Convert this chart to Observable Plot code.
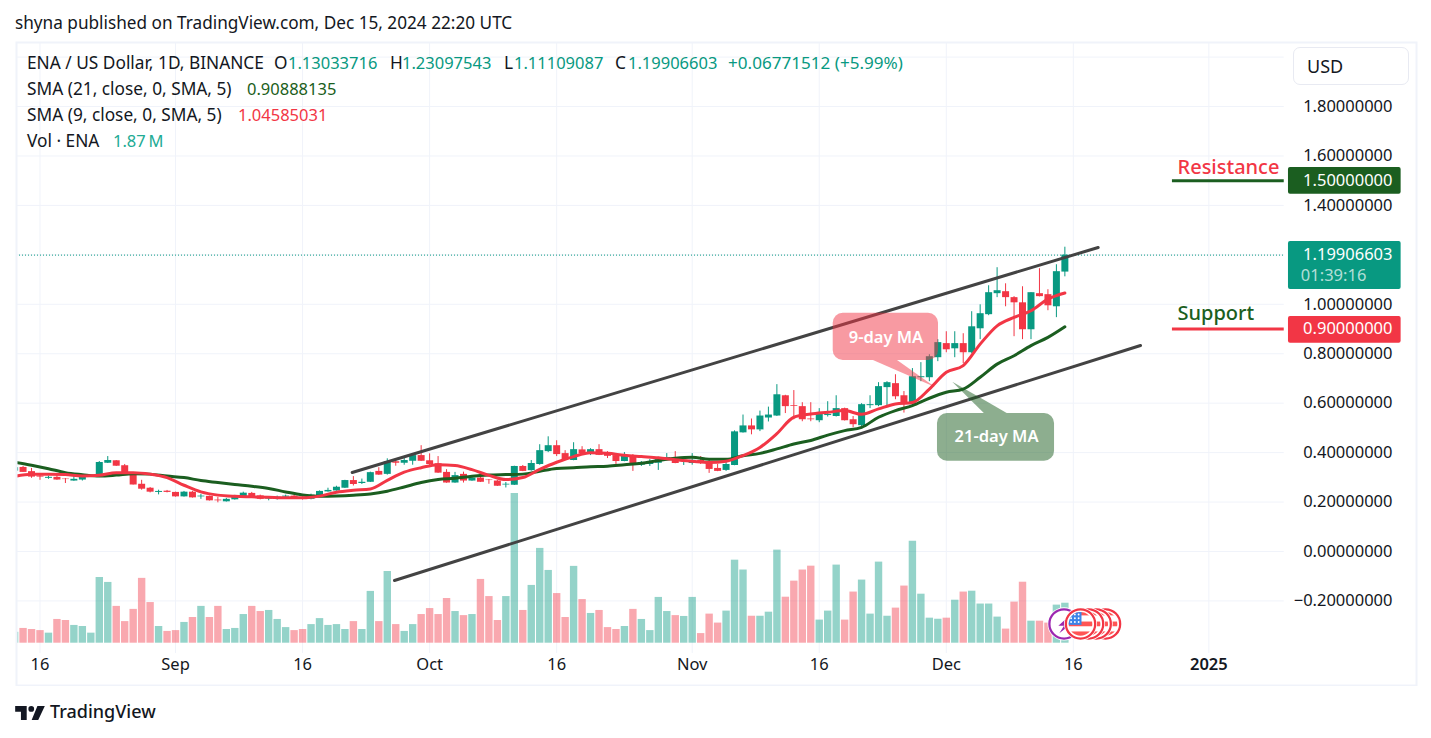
<!DOCTYPE html>
<html>
<head>
<meta charset="utf-8">
<script src="https://cdn.jsdelivr.net/npm/d3@7"></script>
<script src="https://cdn.jsdelivr.net/npm/@observablehq/plot@0.6"></script>
<style>
  html,body{margin:0;padding:0;background:#fff;width:1431px;height:738px;overflow:hidden;}
  body{position:relative;font-family:"Noto Sans",sans-serif;color:#131722;}
  #title{height:41px;line-height:45px;padding-left:15px;font-size:17.2px;box-sizing:border-box;white-space:nowrap;}
  #chart svg{display:block;}
  #footer{height:52px;position:relative;}
  #footer svg{position:absolute;left:15px;top:20px;}
  #footer span{position:absolute;left:50px;top:13px;font-size:18px;font-weight:500;color:#131722;}
  .lg{position:absolute;line-height:22px;white-space:nowrap;}
  #usd{position:absolute;left:1293px;top:47px;width:116px;height:38px;box-sizing:border-box;border:1.5px solid #e8eaf2;border-radius:7px;font-size:18px;line-height:36px;padding-left:13px;}
</style>
</head>
<body>
<div id="title">shyna published on TradingView.com, Dec 15, 2024 22:20 UTC</div>
<div id="chart"></div>
<div id="footer">
  <svg width="30" height="14" viewBox="0 0 36 17"><path fill="#131722" d="M14 17H7V7H0V0h14zM28 17h-8L27 0h9z"/><circle cx="19.5" cy="3.5" r="3.5" fill="#131722"/></svg>
  <span>TradingView</span>
</div>
<div id="usd">USD</div>
<script>
// ---------- data ----------
const dayStart = Date.UTC(2024, 7, 13), dayEnd = Date.UTC(2024, 11, 16);
const opens = [
.325,.340,.323,.305,.296,.300,.293,.285,.289,.303,.301,.357,.367,.347,.311,.272,.256,.239,.244,
.239,.221,.240,.221,.223,.208,.201,.209,.217,.235,.225,.212,.211,.220,.224,.215,.211,.224,.241,.245,.256,.287,.275,.280,.324,.312,.363,.357,.365,.388,
.367,.355,.320,.277,.312,.285,.297,.289,.285,.269,.268,.344,.327,.352,.404,.428,.396,.368,.411,.396,.412,.395,.388,.364,.388,.349,.352,.357,.368,.377,.367,
.356,.368,.364,.336,.328,.348,.480,.508,.492,.540,.548,.630,.590,.586,.536,.529,.550,.546,.578,.533,.509,.590,.590,.663,.679,.630,.594,.703,.703,.784,
.841,.820,.841,.804,.901,.958,1.043,1.051,1.027,1.006,.897,1.043,1.039,.990,1.13034];
const highs = [
.341,.344,.336,.315,.305,.311,.295,.305,.311,.308,.364,.384,.368,.352,.319,.288,.259,.248,.247,
.240,.243,.243,.231,.224,.219,.215,.227,.240,.239,.228,.221,.224,.228,.227,.221,.232,.245,.256,.264,.288,.303,.293,.321,.339,.375,.375,.377,.395,.428,
.395,.384,.331,.320,.321,.307,.301,.291,.288,.279,.345,.348,.368,.432,.464,.448,.408,.440,.424,.416,.432,.404,.391,.400,.392,.364,.372,.381,.396,.404,.381,
.396,.384,.368,.352,.360,.488,.552,.536,.568,.584,.675,.632,.651,.602,.602,.578,.606,.630,.580,.546,.598,.630,.683,.687,.715,.647,.740,.764,.796,.857,
.889,.889,.881,.970,.998,1.075,1.148,1.083,1.031,1.071,1.047,1.144,1.059,1.160,1.23098];
const lows = [
.323,.320,.296,.288,.292,.288,.275,.284,.285,.299,.299,.356,.344,.308,.269,.248,.237,.229,.237,
.220,.220,.216,.211,.204,.197,.200,.208,.216,.216,.209,.205,.208,.217,.213,.208,.209,.220,.240,.244,.255,.265,.271,.279,.308,.309,.345,.349,.349,.364,
.347,.316,.276,.276,.277,.284,.279,.272,.263,.257,.267,.323,.325,.349,.400,.384,.371,.367,.392,.388,.388,.376,.352,.363,.324,.344,.344,.328,.367,.355,.348,
.349,.352,.316,.323,.324,.347,.479,.472,.485,.524,.546,.558,.533,.525,.525,.521,.544,.544,.528,.501,.505,.578,.586,.586,.614,.560,.590,.687,.687,.768,
.804,.784,.760,.800,.857,.954,1.027,.990,.869,.857,.857,1.030,.974,.946,1.11109];
const closes = [
.339,.320,.301,.301,.300,.289,.291,.292,.304,.305,.360,.368,.345,.309,.269,.252,.240,.243,.239,
.221,.240,.217,.224,.205,.205,.211,.221,.236,.217,.211,.216,.220,.224,.215,.212,.228,.243,.247,.260,.287,.271,.280,.319,.309,.363,.357,.368,.388,.365,
.352,.317,.277,.307,.285,.297,.280,.287,.264,.272,.344,.324,.356,.408,.428,.392,.372,.412,.396,.412,.389,.385,.364,.388,.349,.360,.360,.372,.380,.356,.369,
.369,.356,.332,.324,.352,.484,.508,.492,.548,.552,.634,.586,.587,.533,.533,.554,.554,.578,.529,.513,.594,.594,.667,.683,.626,.594,.707,.707,.788,.845,
.816,.841,.804,.909,.962,1.047,1.055,1.027,1.006,.897,1.047,1.031,.994,1.132,1.19907];
const volumeM = [
.51,.69,.64,.59,.47,1.11,1.06,.83,.78,.47,3.07,2.84,1.72,1.01,1.58,3.03,1.90,.78,.55,
.59,.97,1.20,1.72,1.20,1.72,.64,.69,1.34,1.72,1.48,1.53,1.11,.73,.59,.64,.87,1.15,.83,.87,.64,1.01,.64,2.42,1.01,3.35,.87,.55,.87,1.34,
1.62,1.34,2.09,1.48,1.29,1.34,2.98,2.18,1.06,2.18,7.00,1.53,2.70,4.43,3.40,2.32,1.20,3.59,2.04,1.39,1.53,.73,.64,.78,1.58,1.11,.59,2.14,1.48,1.29,1.25,
2.14,.45,1.36,.94,1.50,3.88,3.42,1.26,1.26,1.45,4.35,2.15,2.90,3.42,3.60,1.08,1.50,3.65,1.08,2.39,2.95,1.36,3.79,1.26,1.64,2.67,4.77,2.29,1.17,1.12,
1.17,2.01,2.39,2.43,1.83,1.83,1.22,.66,1.92,2.85,1.03,1.03,.94,1.78,1.87];
// moving averages, read every second day from Aug 13
const ma21 = [
.361,.349,.335,.319,.311,.305,.309,.315,.313,.305,.299,.287,.279,.271,.264,.255,.241,.229,.224,.225,.228,.233,.244,.261,.279,.291,.296,.304,
.309,.311,.313,.325,.336,.339,.343,.345,.351,.357,.368,.377,.381,.373,.373,.387,.397,.415,
.435,.449,.471,.489,.502,.543,.570,.590,.620,.644,.657,.705,.758,.792,.833,.866,.90888];
const ma9 = [
.304,.312,.313,.311,.305,.308,.319,.319,.313,.299,.268,.241,.228,.223,.221,.219,.217,.217,.224,.240,.248,.253,.288,.321,.339,.351,.348,.331,
.308,.291,.299,.332,.361,.384,.399,.397,.389,.384,.379,.371,.365,.36,.365,.388,.421,.477,
.543,.556,.563,.570,.555,.577,.597,.603,.657,.725,.752,.839,.913,.947,.974,1.021,1.04585];

const priceTicks = [1.8,1.6,1.4,1.0,0.8,0.6,0.4,0.2,0,-0.2];
const gridPrices = [2.0,1.8,1.6,1.4,1.2,1.0,0.8,0.6,0.4,0.2,0,-0.2];
const xTickDates = ["2024-08-16","2024-09-01","2024-09-16","2024-10-01","2024-10-16","2024-11-01","2024-11-16","2024-12-01","2024-12-16"];
const xTickLabels = ["16","Sep","16","Oct","16","Nov","16","Dec","16"];
const yearTickDate = "2025-01-01", yearTickLabel = "2025";

const lastClose = 1.19906603, resistance = 1.5, support = 0.9;
// trend channel and callout anchors: [days after Aug 16, price]
const channelUpper = [[36.86,.3196],[124.93,1.2298]];
const channelLower = [[41.85,-.1173],[129.93,.8333]];
const ma9Box = {x1:93.65,x2:106.08,y1:.7727,y2:.964}, ma21Box = {x1:105.96,x2:119.78,y1:.3653,y2:.5583};
const ma9Tail = [[98.4,.7727,.7727],[101.24,.7727,.730],[105.73,.6634,.6634]];
const ma21Tail = [[107.76,.6849,.6849],[111.49,.612,.5583],[114.19,.5583,.5583]];
const callouts = [{t:"9-day MA",x:99.88,y:.8657},{t:"21-day MA",x:112.93,y:.4652}];

// ---------- helpers ----------
const up = "#089981", down = "#f23645", dark = "#1b5e20", grid = "#f0f3fa", ink = "#131722";
const font = '"Noto Sans",sans-serif';
const origin = Date.UTC(2024,7,16);
const day = d => new Date(origin + d*864e5);
const panelStart = day(146.9), plotLeft = day(-2.7745);
const axisBottom = -.4126, volBase = -.371, volPerM = .08657;
const dates = d3.utcDay.range(dayStart, dayEnd);
const candles = dates.map((date,i)=>({date,o:opens[i],h:highs[i],l:lows[i],c:closes[i],v:volumeM[i],color:closes[i]>=opens[i]?up:down}));
const maDates = dates.filter((_,i)=>i%2===0);
const seg = a => a.map(([x,y])=>({x:day(x),y}));
const tail = a => a.map(([x,y1,y2])=>({x:day(x),y1,y2}));
const tag = (x1,x2,y1,y2,fill) => Plot.rect([{}],{x1:()=>day(x1),x2:()=>day(x2),y1:()=>y1,y2:()=>y2,fill,r:2});
const tagText = (t,y,fill,x=159.68,anchor="end",extra={}) => Plot.text([t],{x:()=>day(x),y:()=>y,text:d=>d,fill,textAnchor:anchor,fontSize:16.5,lineAnchor:"middle",...extra});

const uri = s => "data:image/svg+xml;charset=utf-8,"+encodeURIComponent(s);
const flagSvg = uri(`<svg xmlns="http://www.w3.org/2000/svg" viewBox="0 0 36 36"><defs><clipPath id="c"><circle cx="18" cy="18" r="12.5"/></clipPath></defs><circle cx="18" cy="18" r="17.5" fill="#fff"/><circle cx="18" cy="18" r="15.5" fill="#fff" stroke="#f23645" stroke-width="2.4"/><g clip-path="url(#c)"><rect width="36" height="36" fill="#fff"/><rect x="4" y="5" width="28" height="4" fill="#f55"/><rect x="4" y="15.5" width="28" height="5" fill="#f55"/><rect x="4" y="26" width="28" height="5" fill="#f55"/><rect x="4" y="4" width="15" height="15" fill="#3d85e8"/><g fill="#fff"><circle cx="8" cy="8" r="1"/><circle cx="12" cy="8" r="1"/><circle cx="16" cy="8" r="1"/><circle cx="8" cy="12" r="1"/><circle cx="12" cy="12" r="1"/><circle cx="16" cy="12" r="1"/><circle cx="8" cy="16" r="1"/><circle cx="12" cy="16" r="1"/><circle cx="16" cy="16" r="1"/></g></g></svg>`);
const boltSvg = uri(`<svg xmlns="http://www.w3.org/2000/svg" viewBox="0 0 36 36"><circle cx="18" cy="18" r="17.5" fill="#fff"/><circle cx="18" cy="18" r="15.5" fill="#fff" stroke="#9c27b0" stroke-width="2.4"/><path d="M24 9 L12 20 L18 20 L13 28 L27 17 L20 17 Z" fill="#9c27b0"/></svg>`);
const eventIcons = [
  {d:125.8,src:flagSvg,price:-.2929},{d:124.7,src:flagSvg,price:-.2929},{d:123.8,src:flagSvg,price:-.2929},{d:122.85,src:flagSvg,price:-.2929}
];

const labelFor = new Map(xTickDates.map((d,i)=>[+new Date(d),xTickLabels[i]]));

// ---------- chart ----------
const plot = Plot.plot({
  width:1431, height:645,
  marginLeft:16, marginRight:15, marginTop:1, marginBottom:1,
  style:{fontFamily:font,fontSize:"16px",background:"transparent",color:ink},
  x:{type:"utc",domain:[plotLeft,day(162.515)],axis:null},
  y:{domain:[-.5421,2.0591],axis:null},
  marks:[
    Plot.ruleY(gridPrices,{x1:()=>plotLeft,x2:()=>panelStart,stroke:grid,strokeWidth:1}),
    Plot.ruleX([...xTickDates,yearTickDate].map(d=>new Date(d)),{y1:()=>axisBottom,y2:()=>2.0591,stroke:grid,strokeWidth:1}),
    // volume
    Plot.ruleX(candles,{x:"date",y1:()=>volBase,y2:d=>volBase+d.v*volPerM,stroke:"color",strokeOpacity:.43,strokeWidth:7.4,clip:true}),
    // last price
    Plot.ruleY([lastClose],{x1:()=>plotLeft,x2:()=>panelStart,stroke:up,strokeWidth:1,strokeDasharray:"1 2"}),
    // candles
    Plot.ruleX(candles,{x:"date",y1:"l",y2:"h",stroke:"color",strokeWidth:1,clip:true}),
    Plot.ruleX(candles,{x:"date",y1:"o",y2:"c",stroke:"color",strokeWidth:7,clip:true}),
    // moving averages
    Plot.line(ma21,{x:(d,i)=>maDates[i],y:d=>d,stroke:dark,strokeWidth:3,curve:"monotone-x",clip:true}),
    Plot.line(ma9,{x:(d,i)=>maDates[i],y:d=>d,stroke:down,strokeWidth:3,curve:"monotone-x",clip:true}),
    // channel
    Plot.line(seg(channelUpper),{x:"x",y:"y",stroke:"#434343",strokeWidth:3}),
    Plot.line(seg(channelLower),{x:"x",y:"y",stroke:"#434343",strokeWidth:3}),
    // callouts
    Plot.rect([ma9Box],{x1:d=>day(d.x1),x2:d=>day(d.x2),y1:"y1",y2:"y2",fill:down,fillOpacity:.5,r:10}),
    Plot.areaY(tail(ma9Tail),{x:"x",y1:"y1",y2:"y2",fill:down,fillOpacity:.5}),
    Plot.rect([ma21Box],{x1:d=>day(d.x1),x2:d=>day(d.x2),y1:"y1",y2:"y2",fill:dark,fillOpacity:.5,r:10}),
    Plot.areaY(tail(ma21Tail),{x:"x",y1:"y1",y2:"y2",fill:dark,fillOpacity:.5}),
    Plot.text(callouts,{x:d=>day(d.x),y:"y",text:"t",fill:"#fff",fontSize:16.5,fontWeight:600,lineAnchor:"middle"}),
    // resistance / support
    Plot.ruleY([resistance],{x1:()=>day(133.7),x2:()=>panelStart,stroke:dark,strokeWidth:3}),
    Plot.ruleY([support],{x1:()=>day(133.7),x2:()=>panelStart,stroke:down,strokeWidth:3}),
    Plot.text(["Resistance"],{x:()=>day(134.3),y:()=>1.553,text:d=>d,fill:down,fontSize:20,fontWeight:500,textAnchor:"start",lineAnchor:"middle"}),
    Plot.text(["Support"],{x:()=>day(134.3),y:()=>.963,text:d=>d,fill:dark,fontSize:20,fontWeight:500,textAnchor:"start",lineAnchor:"middle"}),
    // axes
    Plot.axisY(priceTicks,{anchor:"right",tickSize:0,tickPadding:-24,textAnchor:"end",tickFormat:d3.format(".8f"),label:null,fontSize:16.5,fill:ink}),
    Plot.axisX(xTickDates.map(d=>new Date(d)),{anchor:"bottom",tickSize:0,tickPadding:-21,lineAnchor:"middle",tickFormat:d=>labelFor.get(+d),label:null,fontSize:16.5,fill:ink}),
    Plot.axisX([new Date(yearTickDate)],{anchor:"bottom",tickSize:0,tickPadding:-21,lineAnchor:"middle",tickFormat:()=>yearTickLabel,label:null,fontSize:16.5,fontWeight:600,fill:ink}),
    // price tags
    tag(147.4,160.7,1.445,1.553,dark),
    tagText("1.50000000",resistance,"#fff"),
    tag(147.4,160.7,1.06,1.254,up),
    tagText("1.19906603",lastClose,"#fff"),
    tagText("01:39:16",1.1165,"#fff",148.86,"start",{fillOpacity:.7}),
    tag(147.4,160.7,.8426,.9506,down),
    tagText("0.90000000",support,"#fff"),
    // events
    Plot.image([{}],{x:()=>day(120.9),y:()=>-.2929,src:boltSvg,width:34,height:34}),
    Plot.image(eventIcons,{x:d=>day(d.d),y:"price",src:"src",width:34,height:34}),
    Plot.frame({stroke:grid,strokeWidth:2})
  ]
});
document.getElementById("chart").appendChild(plot);

// ---------- legend ----------
const label = 17.3, value = 16.5;
const legend = [
 ["ENA / US Dollar, 1D, BINANCE",27,52,ink,label],
 ["O",274,52,ink,label],["1.13033716",288,52,up,value],
 ["H",390,52,ink,label],["1.23097543",402,52,up,value],
 ["L",504,52,ink,label],["1.11109087",514,52,up,value],
 ["C",615,52,ink,label],["1.19906603",628,52,up,value],
 ["+0.06771512 (+5.99%)",728,52,up,17.1],
 ["SMA (21, close, 0, SMA, 5)",27,78,ink,label],["0.90888135",247,78,dark,value],
 ["SMA (9, close, 0, SMA, 5)",27,104,ink,label],["1.04585031",238,104,down,value],
 ["Vol · ENA",27,130,ink,label],["1.87\u2009M",113,130,"#22ab94",value]
];
for (const [t,x,y,c,fs] of legend){
  const s=document.createElement("div");
  s.className="lg"; s.textContent=t; s.style.left=x+"px"; s.style.top=y+"px"; s.style.color=c; s.style.fontSize=fs+"px";
  document.body.appendChild(s);
}
</script>
</body>
</html>
